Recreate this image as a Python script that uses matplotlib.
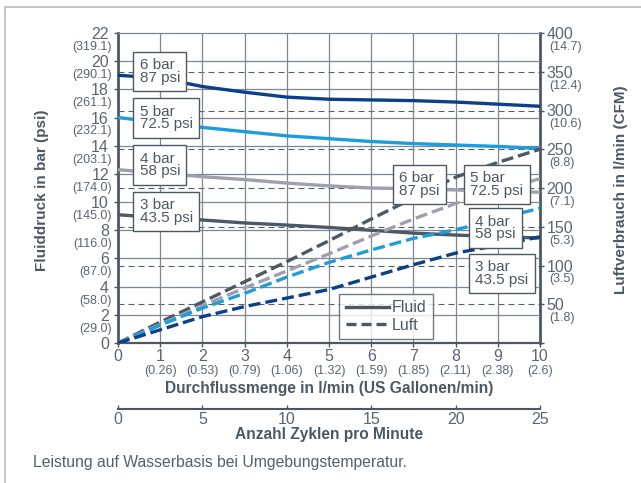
import numpy as np
import matplotlib
matplotlib.use("Agg")
import matplotlib.pyplot as plt
from matplotlib.lines import Line2D
from matplotlib import transforms

plt.rcParams["font.family"] = ["Liberation Sans", "DejaVu Sans"]

# ---- data ----
flow = [0, 1, 2, 3, 4, 5, 6, 7, 8, 9, 10]                # l/min
gallons = ["", "(0.26)", "(0.53)", "(0.79)", "(1.06)", "(1.32)",
           "(1.59)", "(1.85)", "(2.11)", "(2.38)", "(2.6)"]

# fluid pressure (bar) for the four air inlet pressures
fluid_6bar = [19.0, 18.8, 18.2, 17.8, 17.45, 17.3, 17.25, 17.2, 17.1, 16.95, 16.8]
fluid_5bar = [16.0, 15.65, 15.3, 15.0, 14.7, 14.5, 14.3, 14.15, 14.05, 13.95, 13.8]
fluid_4bar = [12.3, 12.05, 11.8, 11.6, 11.35, 11.15, 11.0, 10.95, 10.86, 10.78, 10.7]
fluid_3bar = [9.1, 8.9, 8.73, 8.52, 8.37, 8.2, 8.0, 7.8, 7.66, 7.55, 7.45]

# air consumption (l/min)
air_top = [0, 27, 53, 79, 105, 132, 160, 187, 214, 233, 250]
air_2nd = [0, 24, 48, 71, 93, 115, 138, 160, 180, 197, 212]
air_3rd = [0, 23, 45, 64, 85, 104, 120, 135, 146, 160, 174]
air_4th = [0, 17, 34, 47, 58, 69, 85, 101, 116, 126, 137]

bar_ticks = [0, 2, 4, 6, 8, 10, 12, 14, 16, 18, 20, 22]
psi_labels = ["", "(29.0)", "(58.0)", "(87.0)", "(116.0)", "(145.0)", "(174.0)",
              "(203.1)", "(232.1)", "(261.1)", "(290.1)", "(319.1)"]
lmin_ticks = [0, 50, 100, 150, 200, 250, 300, 350, 400]
cfm_labels = ["", "(1.8)", "(3.5)", "(5.3)", "(7.1)", "(8.8)", "(10.6)", "(12.4)", "(14.7)"]
cycle_ticks = [0, 5, 10, 15, 20, 25]

left_boxes = [(0.51, 19.27, "6 bar\n87 psi"), (0.51, 15.97, "5 bar\n72.5 psi"),
              (0.51, 12.63, "4 bar\n58 psi"), (0.51, 9.33, "3 bar\n43.5 psi")]
right_boxes = [(6.66, 11.25, "6 bar\n87 psi"), (8.35, 11.25, "5 bar\n72.5 psi"),
               (8.47, 8.16, "4 bar\n58 psi"), (8.47, 4.93, "3 bar\n43.5 psi")]

NAVY = "#0b3f88"
LBLUE = "#1d9ddb"
LGRAY = "#a09fae"
DGRAY = "#4d5864"
TXT = "#4d5864"
TICK = "#5b6570"
GRID = "#7f8790"

fig = plt.figure(figsize=(6.41, 4.83), dpi=100)
fig.patch.set_facecolor("white")

ax = fig.add_axes([118 / 641, 1 - 343 / 483, 422 / 641, 310 / 483])
ax2 = ax.twinx()
ax.set_zorder(ax2.get_zorder() + 1)
ax.patch.set_visible(False)

ax.set_xlim(0, 10)
ax.set_ylim(0, 22)
ax2.set_ylim(0, 400)

# grid
for x in flow[1:-1]:
    ax.axvline(x, color=GRID, lw=0.9, zorder=1)
for y in bar_ticks[1:-1]:
    ax.axhline(y, color=GRID, lw=0.9, zorder=1)
for y in lmin_ticks[1:-1]:
    ax2.axhline(y, color="#555f6a", lw=0.8, ls=(0, (5.4, 3.6)), zorder=1)

# fluid lines
for vals, c in [(fluid_6bar, NAVY), (fluid_5bar, LBLUE), (fluid_4bar, LGRAY), (fluid_3bar, DGRAY)]:
    ax.plot(flow, vals, color=c, lw=2.4, solid_capstyle="butt", zorder=3, clip_on=False)

# air lines (right axis scale)
for vals, c in [(air_top, DGRAY), (air_2nd, LGRAY), (air_3rd, LBLUE), (air_4th, NAVY)]:
    ax.plot(flow, vals, color=c, lw=2.4, ls=(0, (3.6, 1.5)), transform=ax2.transData, zorder=3)

# boxes
for x, y, s in left_boxes + right_boxes:
    ax.text(x, y, s, fontsize=11, color=TXT, ha="left", va="center", linespacing=0.9,
            bbox=dict(boxstyle="square,pad=0.42", fc="white", ec=DGRAY, lw=1.0), zorder=6)

# spines
for s in ["left", "bottom"]:
    ax.spines[s].set_color(DGRAY)
ax.spines["left"].set_linewidth(2.0)
ax.spines["bottom"].set_linewidth(1.6)
ax.spines["top"].set_color(GRID)
ax.spines["top"].set_linewidth(0.9)
ax.spines["right"].set_visible(False)
for s in ["left", "top", "bottom"]:
    ax2.spines[s].set_visible(False)
ax2.spines["right"].set_color(DGRAY)
ax2.spines["right"].set_linewidth(2.0)

# ticks
ax.set_xticks(flow)
ax.set_xticklabels([str(v) for v in flow])
ax.set_yticks(bar_ticks)
ax.set_yticklabels([str(v) for v in bar_ticks])
ax.tick_params(axis="x", direction="out", length=3, width=1, color=DGRAY,
               labelsize=11.5, labelcolor=TICK, pad=1.5)
ax.tick_params(axis="y", direction="out", length=3, width=1, color=DGRAY,
               labelsize=11.5, labelcolor=TICK, pad=3.5)
ax2.set_yticks(lmin_ticks)
ax2.set_yticklabels([str(v) if v else "" for v in lmin_ticks])
ax2.tick_params(axis="y", direction="out", length=3, width=1, color=DGRAY,
                labelsize=11.5, labelcolor=TICK, pad=1.5)

# secondary small labels
yt = transforms.blended_transform_factory(ax.transAxes, ax.transData)
for v, s in zip(bar_ticks, psi_labels):
    tr = transforms.offset_copy(yt, fig=fig, x=-4.5, y=-10, units="points")
    ax.text(0, v, s, transform=tr, fontsize=9, color=TICK, ha="right", va="center")
yt2 = transforms.blended_transform_factory(ax2.transAxes, ax2.transData)
for v, s in zip(lmin_ticks, cfm_labels):
    tr = transforms.offset_copy(yt2, fig=fig, x=7, y=-10, units="points")
    ax2.text(1, v, s, transform=tr, fontsize=9, color=TICK, ha="left", va="center")
xt = transforms.blended_transform_factory(ax.transData, ax.transAxes)
for v, s in zip(flow, gallons):
    tr = transforms.offset_copy(xt, fig=fig, x=0, y=-20.5, units="points")
    ax.text(v, 0, s, transform=tr, fontsize=9, color=TICK, ha="center", va="center")

# legend
handles = [Line2D([], [], color=DGRAY, lw=2.4),
           Line2D([], [], color=DGRAY, lw=2.4, ls=(0, (3.0, 1.5)))]
leg = ax.legend(handles, ["Fluid", "Luft"], loc="upper left", bbox_to_anchor=(0.524, 0.158),
                fontsize=11.5, frameon=True, fancybox=False, handlelength=2.7,
                handletextpad=0.2, borderpad=0.4, labelspacing=0.15, borderaxespad=0)
leg.get_frame().set_edgecolor(DGRAY)
leg.get_frame().set_linewidth(1.0)
leg.set_zorder(7)
for t in leg.get_texts():
    t.set_color(TXT)

# cycle axis
axc = fig.add_axes([118 / 641, 1 - 409 / 483, 422 / 641, 0.0001])
axc.set_xlim(0, 25)
axc.set_xticks(cycle_ticks)
axc.set_xticklabels([str(v) for v in cycle_ticks])
axc.set_yticks([])
for s in ["left", "right", "top"]:
    axc.spines[s].set_visible(False)
axc.spines["bottom"].set_color(DGRAY)
axc.spines["bottom"].set_linewidth(1.5)
axc.tick_params(axis="x", direction="in", length=3, width=1, color=DGRAY,
                labelsize=11.5, labelcolor=TICK, pad=2.5)
axc.patch.set_visible(False)

# axis titles and caption
fig.text(329 / 641, 1 - 389 / 483, "Durchflussmenge in l/min (US Gallonen/min)",
         fontsize=11.2, fontweight="bold", color=TXT, ha="center", va="center")
fig.text(329 / 641, 1 - 435 / 483, "Anzahl Zyklen pro Minute",
         fontsize=11.2, fontweight="bold", color=TXT, ha="center", va="center")
fig.text(42 / 641, 1 - 190 / 483, "Fluiddruck in bar (psi)", rotation=90,
         fontsize=11, fontweight="bold", color=TXT, ha="center", va="center")
fig.text(621 / 641, 1 - 190 / 483, "Luftverbrauch in l/min (CFM)", rotation=90,
         fontsize=11, fontweight="bold", color=TXT, ha="center", va="center")
fig.text(33 / 641, 1 - 462 / 483, "Leistung auf Wasserbasis bei Umgebungstemperatur.",
         fontsize=11.3, color="#555f6a", ha="left", va="center")

# frame
fig.add_artist(Line2D([5 / 641, 5 / 641], [0, 1 - 7 / 483], transform=fig.transFigure,
                      color="#c8c8c8", lw=1.5))
fig.add_artist(Line2D([5 / 641, 1], [1 - 7 / 483, 1 - 7 / 483], transform=fig.transFigure,
                      color="#c8c8c8", lw=1.5))

fig.savefig("out.png", dpi=100)
